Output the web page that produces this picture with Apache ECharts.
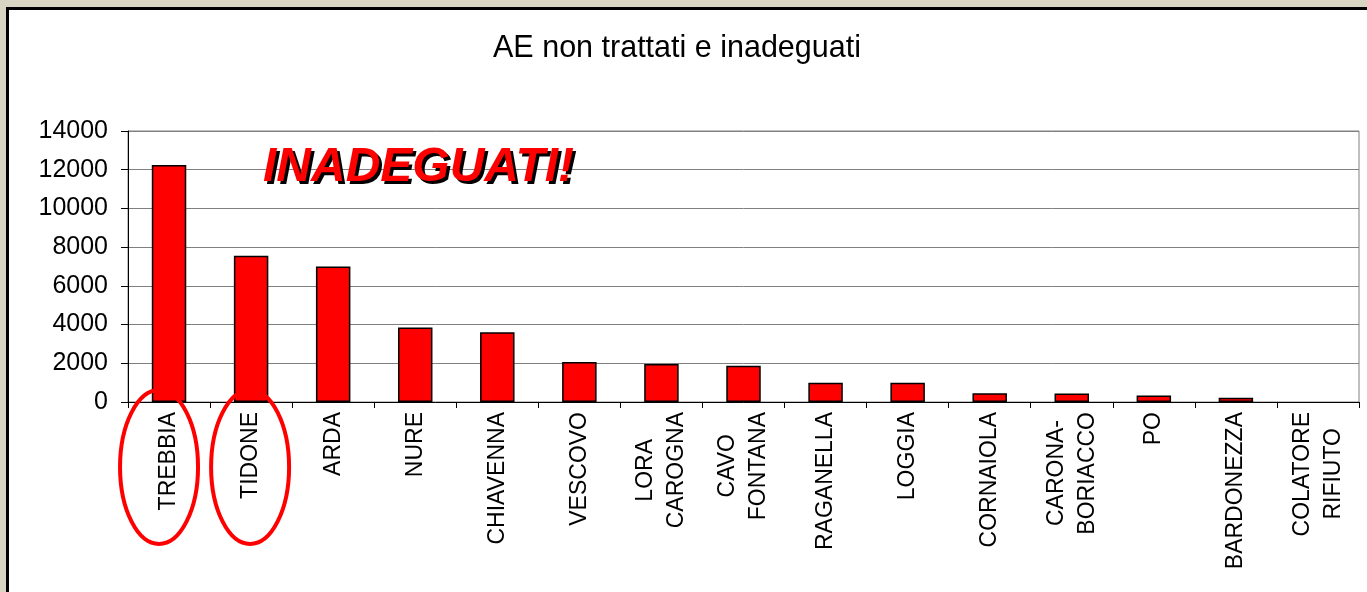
<!DOCTYPE html>
<html>
<head>
<meta charset="utf-8">
<script src="https://cdn.jsdelivr.net/npm/echarts@6/dist/echarts.min.js"></script>
<style>
  html, body { margin: 0; padding: 0; background: #d8d5c2; }
  #main { width: 1367px; height: 592px; }
</style>
</head>
<body>
<div id="main"></div>
<script>
const categories = ['TREBBIA', 'TIDONE', 'ARDA', 'NURE', 'CHIAVENNA', 'VESCOVO', 'LORA\nCAROGNA',
    'CAVO\nFONTANA', 'RAGANELLA', 'LOGGIA', 'CORNAIOLA', 'CARONA-\nBORIACCO', 'PO', 'BARDONEZZA',
    'COLATORE\nRIFIUTO'];
const values = [12250, 7550, 7000, 3850, 3600, 2070, 1960, 1870, 1000, 990, 450, 440, 330, 220, 0];
const yTicks = [0, 2000, 4000, 6000, 8000, 10000, 12000, 14000];
const circled = ['TREBBIA', 'TIDONE'];

const FONT = '"Liberation Sans", Arial, sans-serif';
const labelSize = 23;

// multi-line labels: lines are right-aligned by the axis, so pad the right
// side of shorter lines to centre them on each other
const ctx = document.createElement('canvas').getContext('2d');
ctx.font = labelSize + 'px "Liberation Sans"';
const rich = {};
const labelText = categories.map((c, i) => {
    const lines = c.split('\n');
    const widths = lines.map(l => ctx.measureText(l).width);
    const maxW = Math.max(...widths);
    return lines.map((l, j) => {
        const key = 'l' + i + '_' + j;
        rich[key] = { fontSize: labelSize, lineHeight: 31, fontFamily: FONT, color: '#000',
            padding: [0, Math.round((maxW - widths[j]) / 2), 0, 0] };
        return '{' + key + '|' + l + '}';
    }).join('\n');
});

const chart = echarts.init(document.getElementById('main'));

const option = {
    backgroundColor: 'transparent',
    animation: false,
    title: {
        text: 'AE non trattati e inadeguati',
        left: 672,
        top: 28,
        textAlign: 'center',
        textStyle: { fontFamily: FONT, fontSize: 30.5, fontWeight: 'normal', color: '#000' }
    },
    grid: {
        left: 128, right: 8, top: 131, bottom: 190,
        show: true, borderColor: '#808080', borderWidth: 1, backgroundColor: 'transparent'
    },
    xAxis: {
        type: 'category',
        data: categories,
        axisLine: { lineStyle: { color: '#000', width: 1 } },
        axisTick: { show: true, length: 6, lineStyle: { color: '#000' } },
        axisLabel: {
            rotate: 90,
            margin: 10,
            interval: 0,
            formatter: (v, i) => labelText[i],
            rich: rich
        }
    },
    yAxis: {
        type: 'value',
        min: yTicks[0],
        max: yTicks[yTicks.length - 1],
        interval: 2000,
        axisLine: { show: true, lineStyle: { color: '#000', width: 1 } },
        axisTick: { show: true, length: 7, lineStyle: { color: '#000' } },
        axisLabel: { margin: 20, fontFamily: FONT, fontSize: 25, color: '#000',
            formatter: v => String(v) },
        splitLine: { lineStyle: { color: '#808080', width: 1 } }
    },
    series: [{
        type: 'bar',
        data: values.map(v => v === 0 ? { value: v, itemStyle: { borderWidth: 0 } } : v),
        barWidth: '42%',
        itemStyle: { color: '#ff0000', borderColor: '#000', borderWidth: 1.5 }
    }]
};

chart.setOption(option);

// frame, annotation text and red ellipses round the first two labels
const bigFont = 'italic bold 48px "Liberation Sans", Arial, sans-serif';
const elements = [{
    type: 'rect',
    z: -10,
    shape: { x: 7.5, y: 8.5, width: 1400, height: 620 },
    style: { fill: '#fff', stroke: '#000', lineWidth: 3 }
}, {
    type: 'text',
    z: 50,
    x: 266, y: 171,
    style: { text: 'INADEGUATI!', fill: '#000', font: bigFont, textVerticalAlign: 'middle' }
}, {
    type: 'text',
    z: 51,
    x: 263, y: 168,
    style: { text: 'INADEGUATI!', fill: '#ff0000', font: bigFont, textVerticalAlign: 'middle' }
}];
const offsets = [-10, -1];
circled.forEach((name, k) => {
    const p = chart.convertToPixel({ gridIndex: 0 }, [categories.indexOf(name), 0]);
    elements.push({
        type: 'ellipse',
        z: 100,
        shape: { cx: p[0] + offsets[k], cy: p[1] + 65, rx: 39, ry: 77 },
        style: { fill: 'none', stroke: '#ff0000', lineWidth: 4 }
    });
});
chart.setOption({ graphic: elements });
</script>
</body>
</html>
